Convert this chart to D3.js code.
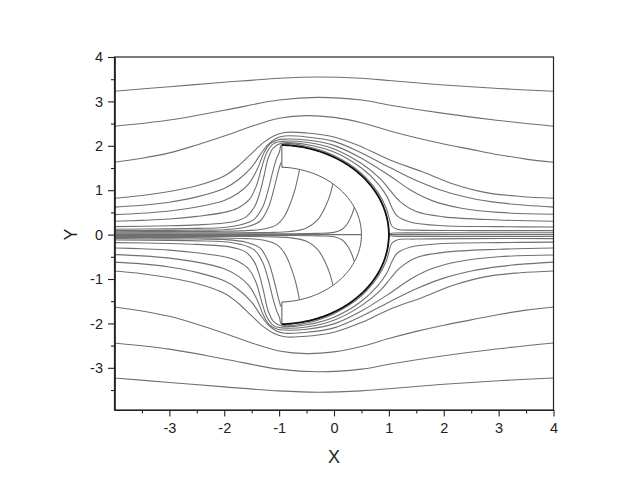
<!DOCTYPE html>
<html><head><meta charset="utf-8">
<script src="https://cdn.jsdelivr.net/npm/d3@7"></script>
<style>body{margin:0;background:#fff}svg{display:block}text{font-family:"Liberation Sans",Arial,sans-serif}</style>
</head><body><svg id="c" width="644" height="493"></svg>
<script>
// ---- axis data ----
const xDomain = [-4, 4];
const yDomain = [-3.95, 4];
const xTicks = [-3, -2, -1, 0, 1, 2, 3, 4];
const yTicks = [-3, -2, -1, 0, 1, 2, 3, 4];
const xMinor = [-3.5, -2.5, -1.5, -0.5, 0.5, 1.5, 2.5, 3.5];
const yMinor = [-3.5, -2.5, -1.5, -0.5, 0.5, 1.5, 2.5, 3.5];
const xTitle = "X", yTitle = "Y";

// ---- crescent body (circle centre, radii, horn cut) ----
const bodyCentre = [-1.02, 0];
const bodyOuterR = 2.02;
const bodyInnerR = 1.52;
const bodyHornX = -0.95;

// ---- streamlines, upper half ----
const u1 = [[-4,3.23],[-3,3.33],[-2,3.43],[-1,3.52],[-0.3,3.55],[0.5,3.52],[1,3.47],[2,3.37],[3,3.29],[4,3.23]];
const u2 = [[-4,2.44],[-3,2.58],[-2,2.8],[-1,3.03],[-0.3,3.09],[0.5,3.03],[1,2.92],[2,2.73],[3,2.57],[4,2.44]];
const u3 = [[-4,1.63],[-3.5,1.72],[-3,1.84],[-2.5,2.02],[-2,2.22],[-1.5,2.44],[-1,2.62],[-0.5,2.68],[0,2.64],[0.5,2.52],[1,2.34],[1.5,2.18],[2,2.04],[2.5,1.92],[3,1.8],[3.5,1.7],[4,1.63]];
const u4 = [[-4,0.82],[-3.5,0.88],[-3,0.97],[-2.5,1.1],[-2,1.32],[-1.75,1.54],[-1.5,1.83],[-1.3,2.06],[-1.1,2.22],[-0.9,2.3],[-0.5,2.29],[0,2.2],[0.5,1.98],[1.02,1.68],[1.6,1.42],[2.2,1.13],[2.8,0.94],[3.4,0.86],[4,0.82]];
const u5 = [[-4,0.62],[-3.5,0.66],[-3,0.73],[-2.5,0.85],[-2,1.04],[-1.75,1.23],[-1.5,1.52],[-1.35,1.79],[-1.2,2.03],[-1.05,2.17],[-0.9,2.22],[-0.5,2.2],[0,2.1],[0.5,1.84],[1.02,1.51],[1.5,1.22],[2,0.98],[2.5,0.82],[3,0.72],[3.5,0.66],[4,0.62]];
const u6 = [[-4,0.45],[-3.5,0.48],[-3,0.53],[-2.5,0.62],[-2,0.77],[-1.75,0.93],[-1.55,1.15],[-1.4,1.47],[-1.28,1.83],[-1.17,2.04],[-1.03,2.13],[-0.9,2.15],[-0.5,2.13],[0,2.01],[0.5,1.72],[1.02,1.32],[1.4,1.0],[1.8,0.76],[2.3,0.6],[3,0.5],[4,0.46]];
const u7 = [[-4,0.3],[-3.5,0.32],[-3,0.35],[-2.5,0.41],[-2,0.5],[-1.75,0.6],[-1.55,0.78],[-1.42,1.08],[-1.32,1.5],[-1.22,1.86],[-1.1,2.05],[-0.95,2.1],[-0.5,2.08],[0,1.93],[0.5,1.6],[0.85,1.25],[1.02,1.0],[1.2,0.75],[1.5,0.52],[2,0.4],[3,0.33],[4,0.3]];
const u8 = [[-4,0.18],[-3,0.2],[-2.5,0.22],[-2,0.26],[-1.75,0.32],[-1.6,0.4],[-1.45,0.62],[-1.35,0.95],[-1.27,1.35],[-1.2,1.72],[-1.1,1.96],[-0.95,2.06],[-0.5,2.03],[0,1.86],[0.5,1.5],[0.8,1.15],[0.97,0.85],[1.05,0.62],[1.15,0.42],[1.4,0.28],[2,0.2],[3,0.18],[4,0.17]];
const uh1 = [[-4,0.12],[-3,0.13],[-2.5,0.14],[-2,0.16],[-1.7,0.22],[-1.45,0.35],[-1.3,0.62],[-1.2,1.0],[-1.12,1.4],[-1.05,1.7],[-0.99,1.88],[-0.97,2.0],[-0.9,2.05],[-0.5,1.99],[0,1.78],[0.5,1.38],[0.8,0.95],[0.95,0.6],[1.01,0.35],[1.05,0.2],[1.15,0.12],[1.5,0.1],[2.5,0.09],[4,0.09]];
const uh2 = [[-4,0.09],[-3,0.095],[-2.5,0.1],[-2,0.11],[-1.6,0.17],[-1.35,0.3],[-1.2,0.6],[-1.1,1.0],[-1.02,1.4],[-0.97,1.62]];
const uca = [[-4,0.065],[-3,0.068],[-2,0.075],[-1.6,0.09],[-1.3,0.12],[-1.05,0.22],[-0.9,0.42],[-0.79,0.72],[-0.71,1.02],[-0.66,1.28],[-0.63,1.46]];
const ucb = [[-4,0.04],[-2,0.042],[-1.2,0.048],[-0.8,0.07],[-0.5,0.15],[-0.3,0.33],[-0.16,0.62],[-0.07,0.9],[-0.02,1.14]];
const ucc = [[-4,0.02],[-1,0.02],[-0.3,0.028],[0,0.05],[0.15,0.12],[0.26,0.28],[0.33,0.46],[0.37,0.61]];
const ur2 = [[1.0,0.01],[1.03,0.025],[1.1,0.035],[1.4,0.04],[2.5,0.042],[4,0.042]];
// ---- centre line ----
const c0 = [[-4,0],[0.5,0]];
const r0 = [[1.0,0],[4,0]];
// ---- streamlines, lower half ----
const d1 = [[-4,-3.23],[-3,-3.33],[-2,-3.43],[-1,-3.52],[-0.3,-3.55],[0.5,-3.52],[1,-3.47],[2,-3.37],[3,-3.29],[4,-3.23]];
const d2 = [[-4,-2.44],[-3,-2.58],[-2,-2.8],[-1,-3.03],[-0.3,-3.09],[0.5,-3.03],[1,-2.92],[2,-2.73],[3,-2.57],[4,-2.44]];
const d3l = [[-4,-1.63],[-3.5,-1.72],[-3,-1.84],[-2.5,-2.02],[-2,-2.22],[-1.5,-2.44],[-1,-2.62],[-0.5,-2.68],[0,-2.64],[0.5,-2.52],[1,-2.34],[1.5,-2.18],[2,-2.04],[2.5,-1.92],[3,-1.8],[3.5,-1.7],[4,-1.63]];
const d4 = [[-4,-0.82],[-3.5,-0.88],[-3,-0.97],[-2.5,-1.1],[-2,-1.32],[-1.75,-1.54],[-1.5,-1.83],[-1.3,-2.06],[-1.1,-2.22],[-0.9,-2.3],[-0.5,-2.29],[0,-2.2],[0.5,-1.98],[1.02,-1.68],[1.6,-1.42],[2.2,-1.13],[2.8,-0.94],[3.4,-0.86],[4,-0.82]];
const d5 = [[-4,-0.62],[-3.5,-0.66],[-3,-0.73],[-2.5,-0.85],[-2,-1.04],[-1.75,-1.23],[-1.5,-1.52],[-1.35,-1.79],[-1.2,-2.03],[-1.05,-2.17],[-0.9,-2.22],[-0.5,-2.2],[0,-2.1],[0.5,-1.84],[1.02,-1.51],[1.5,-1.22],[2,-0.98],[2.5,-0.82],[3,-0.72],[3.5,-0.66],[4,-0.62]];
const d6 = [[-4,-0.45],[-3.5,-0.48],[-3,-0.53],[-2.5,-0.62],[-2,-0.77],[-1.75,-0.93],[-1.55,-1.15],[-1.4,-1.47],[-1.28,-1.83],[-1.17,-2.04],[-1.03,-2.13],[-0.9,-2.15],[-0.5,-2.13],[0,-2.01],[0.5,-1.72],[1.02,-1.32],[1.4,-1.0],[1.8,-0.76],[2.3,-0.6],[3,-0.5],[4,-0.46]];
const d7 = [[-4,-0.3],[-3.5,-0.32],[-3,-0.35],[-2.5,-0.41],[-2,-0.5],[-1.75,-0.6],[-1.55,-0.78],[-1.42,-1.08],[-1.32,-1.5],[-1.22,-1.86],[-1.1,-2.05],[-0.95,-2.1],[-0.5,-2.08],[0,-1.93],[0.5,-1.6],[0.85,-1.25],[1.02,-1.0],[1.2,-0.75],[1.5,-0.52],[2,-0.4],[3,-0.33],[4,-0.3]];
const d8 = [[-4,-0.18],[-3,-0.2],[-2.5,-0.22],[-2,-0.26],[-1.75,-0.32],[-1.6,-0.4],[-1.45,-0.62],[-1.35,-0.95],[-1.27,-1.35],[-1.2,-1.72],[-1.1,-1.96],[-0.95,-2.06],[-0.5,-2.03],[0,-1.86],[0.5,-1.5],[0.8,-1.15],[0.97,-0.85],[1.05,-0.62],[1.15,-0.42],[1.4,-0.28],[2,-0.2],[3,-0.18],[4,-0.17]];
const dh1 = [[-4,-0.12],[-3,-0.13],[-2.5,-0.14],[-2,-0.16],[-1.7,-0.22],[-1.45,-0.35],[-1.3,-0.62],[-1.2,-1.0],[-1.12,-1.4],[-1.05,-1.7],[-0.99,-1.88],[-0.97,-2.0],[-0.9,-2.05],[-0.5,-1.99],[0,-1.78],[0.5,-1.38],[0.8,-0.95],[0.95,-0.6],[1.01,-0.35],[1.05,-0.2],[1.15,-0.12],[1.5,-0.1],[2.5,-0.09],[4,-0.09]];
const dh2 = [[-4,-0.09],[-3,-0.095],[-2.5,-0.1],[-2,-0.11],[-1.6,-0.17],[-1.35,-0.3],[-1.2,-0.6],[-1.1,-1.0],[-1.02,-1.4],[-0.97,-1.62]];
const dca = [[-4,-0.065],[-3,-0.068],[-2,-0.075],[-1.6,-0.09],[-1.3,-0.12],[-1.05,-0.22],[-0.9,-0.42],[-0.79,-0.72],[-0.71,-1.02],[-0.66,-1.28],[-0.63,-1.46]];
const dcb = [[-4,-0.04],[-2,-0.042],[-1.2,-0.048],[-0.8,-0.07],[-0.5,-0.15],[-0.3,-0.33],[-0.16,-0.62],[-0.07,-0.9],[-0.02,-1.14]];
const dcc = [[-4,-0.02],[-1,-0.02],[-0.3,-0.028],[0,-0.05],[0.15,-0.12],[0.26,-0.28],[0.33,-0.46],[0.37,-0.61]];
const dr2 = [[1.0,-0.01],[1.03,-0.025],[1.1,-0.035],[1.4,-0.04],[2.5,-0.042],[4,-0.042]];

const streamlines = [u1,u2,u3,u4,u5,u6,u7,u8,uh1,uh2,uca,ucb,ucc,ur2,c0,r0,
                     d1,d2,d3l,d4,d5,d6,d7,d8,dh1,dh2,dca,dcb,dcc,dr2];

// ---- drawing ----
const svg = d3.select("#c");
const pL = 114.5, pR = 553.5, pT = 57, pB = 410;
const x = d3.scaleLinear().domain(xDomain).range([pL, pR]);
const y = d3.scaleLinear().domain(yDomain).range([pB, pT]);

svg.append("defs").append("clipPath").attr("id","clip")
  .append("rect").attr("x",pL).attr("y",pT).attr("width",pR-pL).attr("height",pB-pT);

const plot = svg.append("g").attr("clip-path","url(#clip)");
const line = d3.line().x(d=>x(d[0])).y(d=>y(d[1])).curve(d3.curveCatmullRom.alpha(0.5));

plot.selectAll("path.s").data(streamlines).join("path").attr("class","s")
  .attr("d", line).attr("fill","none").attr("stroke","#707070").attr("stroke-width",1.1);

// body
const [cx, cy] = bodyCentre;
const th0 = Math.acos((bodyHornX - cx) / bodyOuterR);
const th1 = Math.acos((bodyHornX - cx) / bodyInnerR);
const outerPts = d3.range(0, 121).map(i => { const t = th0 - (2*th0)*i/120; return [cx + bodyOuterR*Math.cos(t), cy + bodyOuterR*Math.sin(t)]; });
const innerPts = d3.range(0, 121).map(i => { const t = -th1 + (2*th1)*i/120; return [cx + bodyInnerR*Math.cos(t), cy + bodyInnerR*Math.sin(t)]; });
const lin = d3.line().x(d=>x(d[0])).y(d=>y(d[1]));
plot.append("path").attr("d", lin(outerPts.concat(innerPts)) + "Z")
  .attr("fill","#fff").attr("stroke","#555").attr("stroke-width",1);
plot.append("path").attr("d", lin(outerPts)).attr("fill","none").attr("stroke","#111").attr("stroke-width",1.8);

// frame
svg.append("rect").attr("x",pL).attr("y",pT).attr("width",pR-pL).attr("height",pB-pT)
  .attr("fill","none").attr("stroke","#222").attr("stroke-width",1.2);

// axes
svg.append("g").attr("transform",`translate(0,${pB})`)
  .call(d3.axisBottom(x).tickValues(xTicks).tickSize(6.5).tickSizeOuter(0).tickFormat(d=>String(d)).tickPadding(6));
svg.append("g").attr("transform",`translate(0,${pB})`)
  .call(d3.axisBottom(x).tickValues(xMinor).tickSize(3.5).tickSizeOuter(0).tickFormat(""));
svg.append("g").attr("transform",`translate(${pL},0)`)
  .call(d3.axisLeft(y).tickValues(yTicks).tickSize(6.5).tickSizeOuter(0).tickFormat(d=>String(d)).tickPadding(5));
svg.append("g").attr("transform",`translate(${pL},0)`)
  .call(d3.axisLeft(y).tickValues(yMinor).tickSize(3.5).tickSizeOuter(0).tickFormat(""));
svg.selectAll(".domain").attr("stroke","#222").attr("stroke-width",1.2);
svg.selectAll(".tick line").attr("stroke","#222").attr("stroke-width",1.1);
svg.selectAll(".tick text").attr("font-size",14.5).attr("fill","#222").attr("font-family","Liberation Sans, Arial, sans-serif");

svg.append("text").attr("x",(pL+pR)/2).attr("y",463).attr("text-anchor","middle")
  .attr("font-size",18).attr("fill","#222").text(xTitle);
svg.append("text").attr("transform",`translate(77,${y(0)}) rotate(-90)`).attr("text-anchor","middle")
  .attr("font-size",18).attr("fill","#222").text(yTitle);
</script></body></html>
